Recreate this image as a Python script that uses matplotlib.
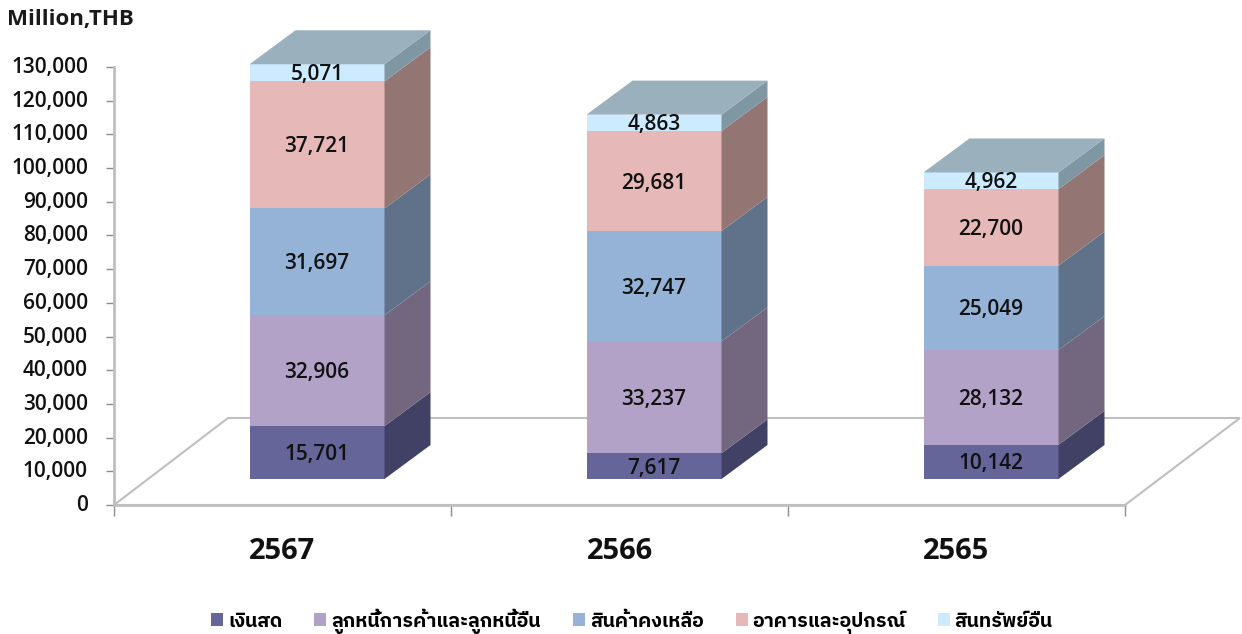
import matplotlib
matplotlib.use('Agg')
import matplotlib.pyplot as plt
from matplotlib import font_manager as fm
from matplotlib.patches import Polygon, Patch
from matplotlib.ticker import FuncFormatter
from matplotlib.transforms import ScaledTranslation

years = ['2567', '2566', '2565']
series_names = ['เงินสด', 'ลูกหนี้การค้าและลูกหนี้อื่น', 'สินค้าคงเหลือ', 'อาคารและอุปกรณ์', 'สินทรัพย์อื่น']
cash = [15701, 7617, 10142]
receivables = [32906, 33237, 28132]
inventory = [31697, 32747, 25049]
property_equipment = [37721, 29681, 22700]
other_assets = [5071, 4863, 4962]
series = [cash, receivables, inventory, property_equipment, other_assets]

front_colors = ['#65659A', '#B3A2C7', '#95B3D7', '#E6B9B8', '#CCEBFF']
side_colors = ['#414166', '#72677F', '#5F7289', '#937674', '#7F96A3']
top_color = '#9BB0BD'
grey = '#BFBFBF'

W, H = 1242, 634
L, R, T, B = 114, 1125, 67, 505
fig = plt.figure(figsize=(W / 100, H / 100), dpi=100)
ax = fig.add_axes([L / W, 1 - B / H, (R - L) / W, (B - T) / H])
ax.set_xlim(-0.5, 2.5)
ax.set_ylim(0, 130000)

xu = 3.0 / (R - L)
yu = 130000 / (B - T)
depth_x, depth_y = 46 * xu, 34 * yu
base = 26 * yu
shift = 34.5 * xu
width = 135 * xu

text_font = ['Open Sans', 'DejaVu Sans']
thai_candidates = sorted({f.name for f in fm.fontManager.ttflist if 'thai' in f.name.lower() or 'tahoma' in f.name.lower()})
thai_font = thai_candidates[:1] + ['Noto Sans', 'DejaVu Sans']

floor = Polygon([(-0.5, 0), (-0.5 + 114 * xu, 87 * yu), (2.5 + 115 * xu, 87 * yu), (2.5, 0)],
                closed=True, facecolor='white', edgecolor=grey, linewidth=1.5, zorder=1, clip_on=False)
ax.add_patch(floor)

for i, year in enumerate(years):
    x0 = i + shift - width / 2
    x1 = x0 + width
    bottom = base
    for values, fc, sc in zip(series, front_colors, side_colors):
        v = values[i]
        ax.bar(i + shift, v, width=width, bottom=bottom, color=fc, linewidth=0, zorder=3, clip_on=False)
        ax.add_patch(Polygon([(x1, bottom), (x1 + depth_x, bottom + depth_y),
                              (x1 + depth_x, bottom + v + depth_y), (x1, bottom + v)],
                             closed=True, facecolor=sc, edgecolor='none', zorder=3, clip_on=False))
        ax.annotate(f'{v:,}', xy=(i + shift, bottom + v / 2), xytext=(0, -1.5), textcoords='offset points',
                    ha='center', va='center', fontsize=15, family=text_font, fontweight='semibold',
                    color='#111111', zorder=5)
        bottom += v
    ax.add_patch(Polygon([(x0, bottom), (x1, bottom), (x1 + depth_x, bottom + depth_y),
                          (x0 + depth_x, bottom + depth_y)],
                         closed=True, facecolor=top_color, edgecolor='none', zorder=3, clip_on=False))

for s in ['top', 'right']:
    ax.spines[s].set_visible(False)
for s in ['left', 'bottom']:
    ax.spines[s].set_color(grey)
    ax.spines[s].set_linewidth(2)
ax.patch.set_alpha(0)

ax.set_yticks(range(0, 130001, 10000))
ax.yaxis.set_major_formatter(FuncFormatter(lambda v, _: f'{int(v):,}'))
ax.tick_params(axis='y', length=6, width=1, color='#8C8C8C', pad=12.8, labelcolor='#111111')
up = ScaledTranslation(0, 2 / 100, fig.dpi_scale_trans)
for t in ax.get_yticklabels():
    t.set_family(text_font); t.set_fontsize(15); t.set_fontweight('semibold')
    t.set_transform(t.get_transform() + up)

ax.set_xticks([-0.5, 0.5, 1.5, 2.5])
ax.set_xticklabels([])
ax.set_xticks([0, 1, 2], minor=True)
ax.set_xticklabels(years, minor=True)
ax.tick_params(axis='x', which='major', length=8, width=1, color='#8C8C8C')
ax.tick_params(axis='x', which='minor', length=0, pad=23, labelcolor='#111111')
for t in ax.get_xticklabels(minor=True):
    t.set_family(text_font); t.set_fontsize(21); t.set_fontweight('bold')

fig.text(7 / W, 1 - 19 / H, 'Million,THB', ha='left', va='center', fontsize=16,
         family=text_font, fontweight='bold', color='#1A1A1A')

handles = [Patch(facecolor=c, edgecolor='none', label=n) for c, n in zip(front_colors, series_names)]
fig.legend(handles=handles, loc='center', bbox_to_anchor=(632 / W, 1 - 621 / H), ncol=5, frameon=False,
           handlelength=0.62, handleheight=0.62, handletextpad=0.25, columnspacing=1.65,
           prop=fm.FontProperties(family=thai_font, size=14, weight='bold'))
fig.savefig('out.png', dpi=100)
